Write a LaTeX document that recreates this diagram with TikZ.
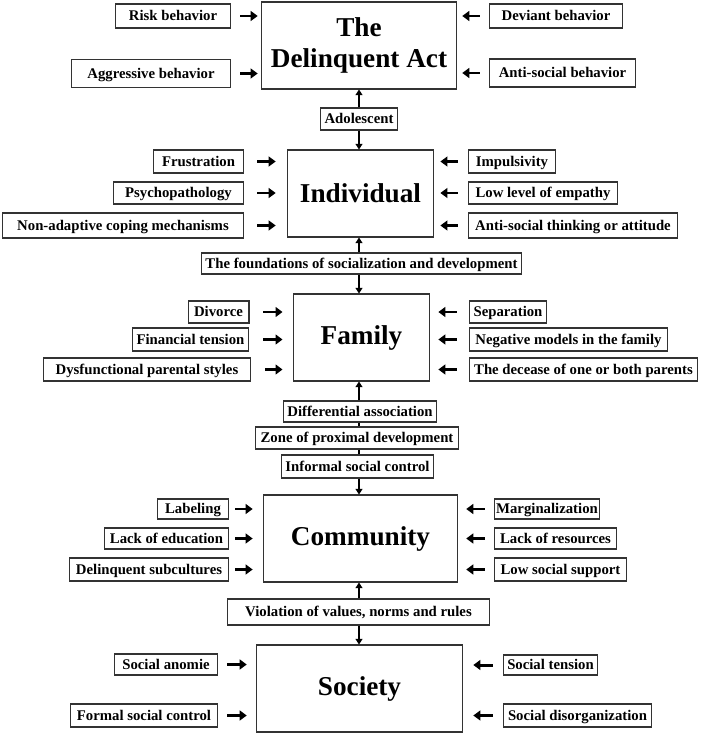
\documentclass[tikz,border=0pt]{standalone}
\usepackage{fontspec}
\setmainfont{Liberation Serif}
\usetikzlibrary{arrows.meta}
\begin{document}
\begin{tikzpicture}[x=0.02cm,y=-0.02cm,
	main/.style 2 args={draw=black!80,line width=0.8pt,inner sep=0pt,align=center,font=\bfseries\fontsize{15.5}{17.6}\selectfont,minimum width=#1*0.567pt,minimum height=#2*0.567pt},
	lbl/.style 2 args={draw=black!80,line width=0.7pt,inner sep=0pt,text height=7pt,text depth=1.4pt,font=\bfseries\fontsize{8.4}{10}\selectfont,minimum width=#1*0.567pt,minimum height=#2*0.567pt},
	push/.style 2 args={line width=1.7pt,-{Triangle[length=4pt,width=5.6pt]},shorten <=#1,shorten >=#2},
	link/.style={line width=0.6pt,-{Triangle[length=3.2pt,width=4pt]}}]
		\useasboundingbox (0,0) rectangle (700,733);
		% the five levels
		\node[main={196}{87}] (act) at (359,45.5) {The\\Delinquent Act};
		\node[main={147}{87}] (indiv) at (360.5,193.5) {Individual};
		\node[main={137}{87}] (family) at (361.5,337.5) {Family};
		\node[main={195}{87}] (commun) at (360.5,538.5) {Community};
		\node[main={207}{87}] (society) at (359.5,688.5) {Society};
		% act
		\node[lbl={116}{24}] (risk) at (173,16) {Risk behavior};
		\node[lbl={160}{28}] (aggr) at (151,73.5) {Aggressive behavior};
		\node[lbl={134}{24}] (deviant) at (556,16) {Deviant behavior};
		\node[lbl={147}{28}] (antisoc) at (562.5,73) {Anti-social behavior};
		\foreach \n in {risk,aggr} \draw[push={5.1pt}{1.7pt}] (\n.east) -- (\n.east -| act.west);
		\foreach \n in {deviant,antisoc} \draw[push={5.1pt}{2.8pt}] (\n.west) -- (\n.west -| act.east);
		\node[lbl={77}{22}] (adol) at (359,119) {Adolescent};
		\draw[link] (adol.north -| act) -- (act.south);
		\draw[link] (adol.south -| act) -- (indiv.north -| act);
		% individual
		\node[lbl={91}{23}] (frus) at (198.5,161.5) {Frustration};
		\node[lbl={131}{22}] (psych) at (178.5,193) {Psychopathology};
		\node[lbl={242}{25}] (nonad) at (123,225.5) {Non-adaptive coping mechanisms};
		\node[lbl={88}{23}] (impul) at (512,161.5) {Impulsivity};
		\node[lbl={150}{22}] (empathy) at (543,193) {Low level of empathy};
		\node[lbl={210}{25}] (think) at (573,225.5) {Anti-social thinking or attitude};
		\foreach \n in {frus,psych,nonad} \draw[push={7.4pt}{6.2pt}] (\n.east) -- (\n.east -| indiv.west);
		\foreach \n in {impul,empathy,think} \draw[push={5.7pt}{3.4pt}] (\n.west) -- (\n.west -| indiv.east);
		\node[lbl={321}{21}] (found) at (361.5,263.5) {The foundations of socialization and development};
		\draw[link] (found.north -| act) -- (indiv.south -| act);
		\draw[link] (found.south -| act) -- (family.north -| act);
		% family
		\node[lbl={61}{22}] (divorce) at (218.5,312) {Divorce};
		\node[lbl={117}{23}] (money) at (190.5,339.5) {Financial tension};
		\node[lbl={208}{23}] (styles) at (147,369.5) {Dysfunctional parental styles};
		\node[lbl={78}{22}] (separ) at (508,312) {Separation};
		\node[lbl={199}{23}] (models) at (568.5,339.5) {Negative models in the family};
		\node[lbl={229}{23}] (decease) at (583.5,369.5) {The decease of one or both parents};
		\foreach \n in {divorce,money,styles} \draw[push={7.9pt}{5.7pt}] (\n.east) -- (\n.east -| family.west);
		\foreach \n in {separ,models,decease} \draw[push={6.8pt}{4.5pt}] (\n.west) -- (\n.west -| family.east);
		\node[lbl={154}{21}] (diff) at (360,411.5) {Differential association};
		\node[lbl={204}{22}] (zone) at (357,438) {Zone of proximal development};
		\node[lbl={153}{23}] (inform) at (357.5,466.5) {Informal social control};
		\draw[link] (diff.north -| act) -- (family.south -| act);
		\draw[line width=0.6pt] (diff.south -| act) -- (zone.north -| act) (zone.south -| act) -- (inform.north -| act);
		\draw[link] (inform.south -| act) -- (commun.north -| act);
		% community
		\node[lbl={72}{20}] (labeling) at (193,509) {Labeling};
		\node[lbl={125}{21}] (educ) at (166.5,538.5) {Lack of education};
		\node[lbl={160}{23}] (subcult) at (149,569.5) {Delinquent subcultures};
		\node[lbl={106}{20}] (margin) at (547,509) {Marginalization};
		\node[lbl={123}{21}] (resources) at (555.5,538.5) {Lack of resources};
		\node[lbl={133}{23}] (support) at (560.5,569.5) {Low social support};
		\foreach \n in {labeling,educ,subcult} \draw[push={3.4pt}{5.7pt}] (\n.east) -- (\n.east -| commun.west);
		\foreach \n in {margin,resources,support} \draw[push={5.1pt}{4.5pt}] (\n.west) -- (\n.west -| commun.east);
		\node[lbl={263}{26}] (viol) at (358.5,612) {Violation of values, norms and rules};
		\draw[link] (viol.north -| act) -- (commun.south -| act);
		\draw[link] (viol.south -| act) -- (society.north -| act);
		% society
		\node[lbl={104}{21}] (anomie) at (166,664.5) {Social anomie};
		\node[lbl={148}{23}] (formal) at (144,715.5) {Formal social control};
		\node[lbl={95}{20}] (tension) at (550.5,665) {Social tension};
		\node[lbl={149}{23}] (disorg) at (577.5,715.5) {Social disorganization};
		\foreach \n in {anomie,formal} \draw[push={5.1pt}{5.1pt}] (\n.east) -- (\n.east -| society.west);
		\foreach \n in {tension,disorg} \draw[push={5.7pt}{5.7pt}] (\n.west) -- (\n.west -| society.east);
\end{tikzpicture}
\end{document}
